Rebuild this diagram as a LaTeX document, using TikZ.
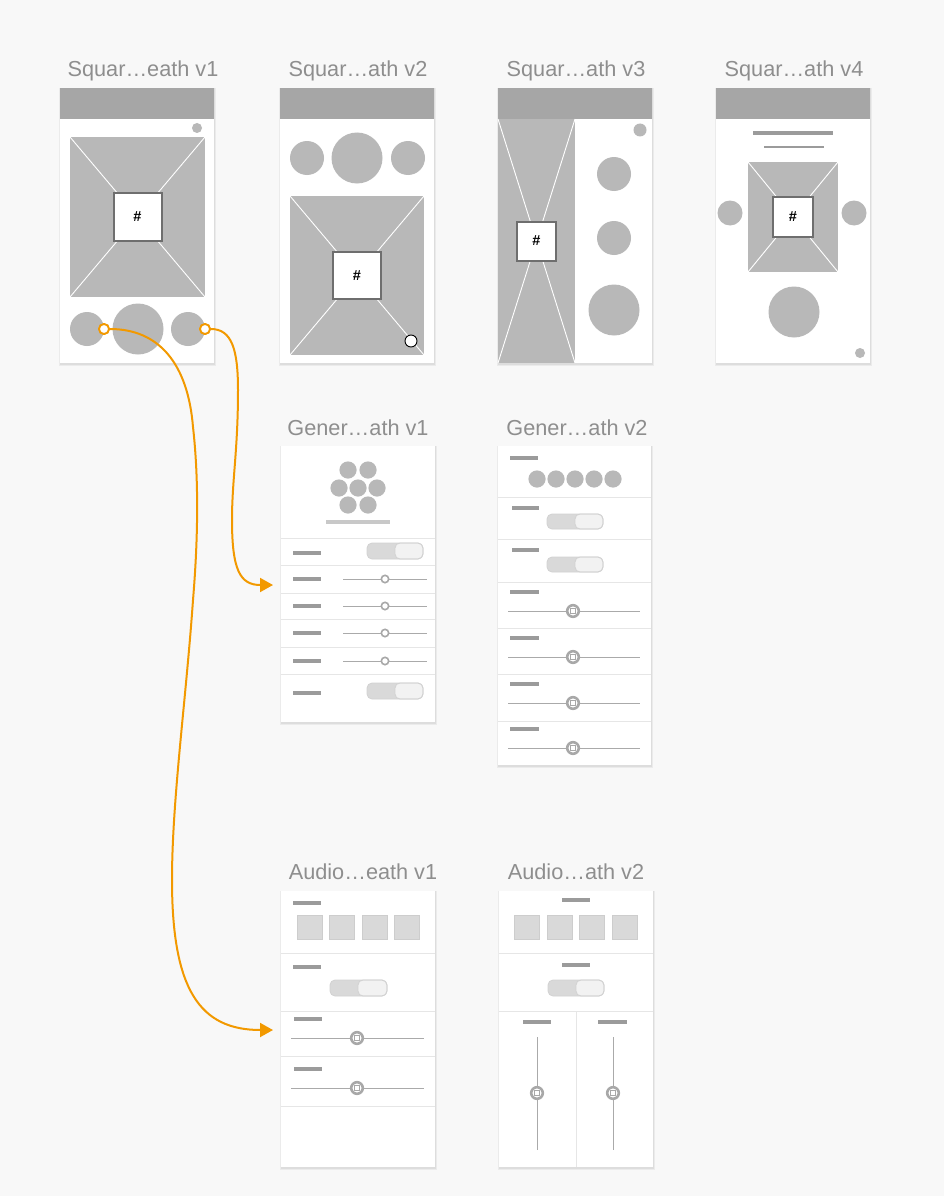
\documentclass[tikz,border=0pt]{standalone}
\usepackage{fontspec}
\setmainfont{Liberation Sans}
\usetikzlibrary{arrows.meta}
\definecolor{bgc}{HTML}{F8F8F8}
\definecolor{hdrc}{HTML}{A6A6A6}
\definecolor{imgc}{HTML}{B8B8B8}
\definecolor{dotc}{HTML}{B8B8B8}
\definecolor{titlec}{HTML}{8E8E8E}
\definecolor{boxc}{HTML}{6E6E6E}
\definecolor{sepc}{HTML}{E6E6E6}
\definecolor{lblc}{HTML}{9B9B9B}
\definecolor{ulc}{HTML}{C8C8C8}
\definecolor{togl}{HTML}{D9D9D9}
\definecolor{togr}{HTML}{F2F2F2}
\definecolor{togb}{HTML}{D2D2D2}
\definecolor{sqc}{HTML}{D9D9D9}
\definecolor{sqb}{HTML}{CDCDCD}
\definecolor{trackc}{HTML}{AAAAAA}
\definecolor{knobc}{HTML}{A8A8A8}
\definecolor{orc}{RGB}{242,153,0}
\tikzset{
  wfscreen/.style={fill=white, draw=none, inner sep=0pt, outer sep=0pt, anchor=north west},
  hdr/.style={fill=hdrc},
  wftitle/.style={text=titlec, font=\fontsize{21.7}{24}\selectfont, anchor=base, inner sep=0pt},
  hashbox/.style={draw=boxc, line width=2pt, fill=white, inner sep=0pt, font=\bfseries\fontsize{14.5}{14.5}\selectfont},
  dot/.style={fill=dotc},
  sepline/.style={draw=sepc, line width=1pt},
  lbl/.style={draw=lblc, line width=4pt},
  track/.style={draw=trackc, line width=1pt},
  knobA/.style={draw=knobc, fill=white, line width=1.6pt},
  knobB/.style={draw=knobc, fill=white, line width=2.6pt},
  sqbox/.style={draw=sqb, fill=sqc, line width=0.6pt},
  conn/.style={draw=orc, line width=2pt, -{Triangle[length=13pt,width=14pt]}},
  port/.style={circle, draw=orc, fill=white, line width=1.8pt, inner sep=0pt, minimum size=10pt},
}
\newcommand\wfScreen[5]{%
  \fill[black, opacity=0.05] (#2-1.5,#3) rectangle (#4+1.5,#5+3);
  \fill[black, opacity=0.06] (#2-0.5,#3) rectangle (#4+0.5,#5+1.5);
  \node[wfscreen, minimum width={(#4-#2)*1pt}, minimum height={(#5-#3)*1pt}] (#1) at (#2,#3) {};}
\newcommand\wfImg[6]{%
  \fill[imgc] (#1,#2) rectangle (#3,#4);
  \draw[white, line width=0.9pt] (#1,#2) -- (#3,#4) (#1,#4) -- (#3,#2);
  \node[hashbox, minimum size=#5pt] (#6) at ({(#1+#3)/2},{(#2+#4)/2}) {\#};}
\newcommand\wfToggle[5]{%
  \fill[togl, rounded corners=5pt] (#1,#2) rectangle (#3,#4);
  \draw[togb, fill=togr, line width=0.8pt, rounded corners=5pt] (#5,#2) rectangle (#3,#4);
  \draw[togb, line width=0.8pt, rounded corners=5pt] (#1,#2) rectangle (#3,#4);}
\newcommand\wfSliderA[4]{%
  \draw[track] (#1,#4) -- (#2,#4);
  \draw[knobA] (#3,#4) circle (3.7pt);}
\newcommand\wfSliderB[4]{%
  \draw[track] (#1,#4) -- (#2,#4);
  \draw[knobB] (#3,#4) circle (5.8pt);
  \draw[knobc, line width=1.5pt] (#3-2.6,#4-2.6) rectangle (#3+2.6,#4+2.6);}
\newcommand\wfVSlider[4]{%
  \draw[track] (#1,#2) -- (#1,#3);
  \draw[knobB] (#1,#4) circle (5.8pt);
  \draw[knobc, line width=1.5pt] (#1-2.6,#4-2.6) rectangle (#1+2.6,#4+2.6);}
\newcommand\wfLbl[3]{\draw[lbl] (#1,#3) -- (#2,#3);}
\newcommand\wfSep[3]{\draw[sepline] (#1,#3) -- (#2,#3);}
\begin{document}
\begin{tikzpicture}[x=1pt,y=-1pt]
\useasboundingbox (0,0) rectangle (944,1196);
\fill[bgc] (0,0) rectangle (944,1196);

% ---------- titles ----------
\node[wftitle] (t1) at (143,77) {Squar…eath v1};
\node[wftitle] (t2) at (358,77) {Squar…ath v2};
\node[wftitle] (t3) at (576,77) {Squar…ath v3};
\node[wftitle] (t4) at (794,77) {Squar…ath v4};
\node[wftitle] (t5) at (358,435) {Gener…ath v1};
\node[wftitle] (t6) at (577,435) {Gener…ath v2};
\node[wftitle] (t7) at (363,879) {Audio…eath v1};
\node[wftitle] (t8) at (576,879) {Audio…ath v2};

% ---------- Squar v1 ----------
\wfScreen{sq1}{60}{88}{214}{363}
\fill[hdr] (60,88) rectangle (214,119);
\fill[dot] (197,128) circle (5pt);
\wfImg{70}{137}{205}{297}{48}{h1}
\fill[dot] (87,329) circle (17pt);
\fill[dot] (138,329) circle (25.5pt);
\fill[dot] (188,329) circle (17pt);

% ---------- Squar v2 ----------
\wfScreen{sq2}{280}{88}{434}{363}
\fill[hdr] (280,88) rectangle (434,119);
\fill[dot] (307,158) circle (17pt);
\fill[dot] (357,158) circle (25.5pt);
\fill[dot] (408,158) circle (17pt);
\wfImg{290}{196}{424}{355}{47.5}{h2}
\draw[black, fill=white, line width=0.9pt] (411,341) circle (6pt);

% ---------- Squar v3 ----------
\wfScreen{sq3}{498}{88}{652}{363}
\fill[hdr] (498,88) rectangle (652,119);
\wfImg{498}{119}{575}{363}{39}{h3}
\fill[dot] (640,130) circle (6.5pt);
\fill[dot] (614,174) circle (17pt);
\fill[dot] (614,238) circle (17pt);
\fill[dot] (614,310) circle (25.5pt);

% ---------- Squar v4 ----------
\wfScreen{sq4}{716}{88}{870}{363}
\fill[hdr] (716,88) rectangle (870,119);
\draw[lblc, line width=4pt] (753,133) -- (833,133);
\draw[lblc, line width=2pt] (764,147) -- (824,147);
\wfImg{748}{162}{838}{272}{40}{h4}
\fill[dot] (730,213) circle (12.5pt);
\fill[dot] (854,213) circle (12.5pt);
\fill[dot] (794,312) circle (25.5pt);
\fill[dot] (860,353) circle (5pt);

% ---------- Gener v1 ----------
\wfScreen{ge1}{281}{446}{435}{722}
\foreach \cx/\cy in {348/470,368/470,339/488,358/488,377/488,348/505,368/505}{
  \fill[dot] (\cx,\cy) circle (8.6pt);}
\draw[ulc, line width=4pt] (326,522) -- (390,522);
\foreach \sy in {538,565,593,619,647,674}{\wfSep{281}{435}{\sy}}
\foreach \ly in {553,579,606,633,661,693}{\wfLbl{293}{321}{\ly}}
\wfToggle{367}{543}{423}{559}{395}
\wfToggle{367}{683}{423}{699}{395}
\foreach \sy in {579,606,633,661}{\wfSliderA{343}{427}{385}{\sy}}

% ---------- Gener v2 ----------
\wfScreen{ge2}{498}{446}{651}{765}
\wfLbl{510}{538}{458}
\foreach \cx in {537,556,575,594,613}{\fill[dot] (\cx,479) circle (8.6pt);}
\foreach \sy in {497,539,582,628,674,721}{\wfSep{498}{651}{\sy}}
\wfLbl{512}{539}{508}
\wfToggle{547}{514}{603}{529}{575}
\wfLbl{512}{539}{550}
\wfToggle{547}{557}{603}{572}{575}
\foreach \ly/\sy in {592/611,638/657,684/703,729/748}{
  \wfLbl{510}{539}{\ly}
  \wfSliderB{508}{640}{573}{\sy}
}

% ---------- Audio v1 ----------
\wfScreen{au1}{281}{891}{435}{1167}
\wfLbl{293}{321}{903}
\foreach \xa/\xb in {297/322,329/354,362/387,394/419}{
  \draw[sqbox] (\xa,915) rectangle (\xb,939);}
\foreach \sy in {953,1011,1056,1106}{\wfSep{281}{435}{\sy}}
\wfLbl{293}{321}{967}
\wfToggle{330}{980}{387}{996}{358}
\wfLbl{294}{322}{1019}
\wfSliderB{291}{424}{357}{1038}
\wfLbl{294}{322}{1069}
\wfSliderB{291}{424}{357}{1088}

% ---------- Audio v2 ----------
\wfScreen{au2}{499}{891}{653}{1167}
\wfLbl{562}{590}{900}
\foreach \xa/\xb in {514/539,547/572,579/604,612/637}{
  \draw[sqbox] (\xa,915) rectangle (\xb,939);}
\wfSep{499}{653}{953}
\wfLbl{562}{590}{965}
\wfToggle{548}{980}{604}{996}{576}
\wfSep{499}{653}{1011}
\draw[sepline] (576,1011) -- (576,1167);
\wfLbl{523}{551}{1022}
\wfLbl{598}{627}{1022}
\wfVSlider{537}{1037}{1150}{1093}
\wfVSlider{613}{1037}{1150}{1093}

% ---------- connectors ----------
\coordinate (e1) at (273,585);
\coordinate (e2) at (273,1030);
\node[port] (p1) at (104,329) {};
\node[port] (p2) at (205,329) {};
\draw[conn] (p2.east) .. controls (232,329) and (238,350) .. (238,390)
  .. controls (238,450) and (232,480) .. (232,520)
  .. controls (232,570) and (240,585) .. (e1);
\draw[conn] (p1.east) .. controls (160,329) and (188,365) .. (193,427)
  .. controls (199,480) and (198,540) .. (193,600)
  .. controls (186,700) and (172,800) .. (172,880)
  .. controls (172,990) and (200,1030) .. (e2);
\node[port] at (p1) {};
\node[port] at (p2) {};
\end{tikzpicture}
\end{document}
